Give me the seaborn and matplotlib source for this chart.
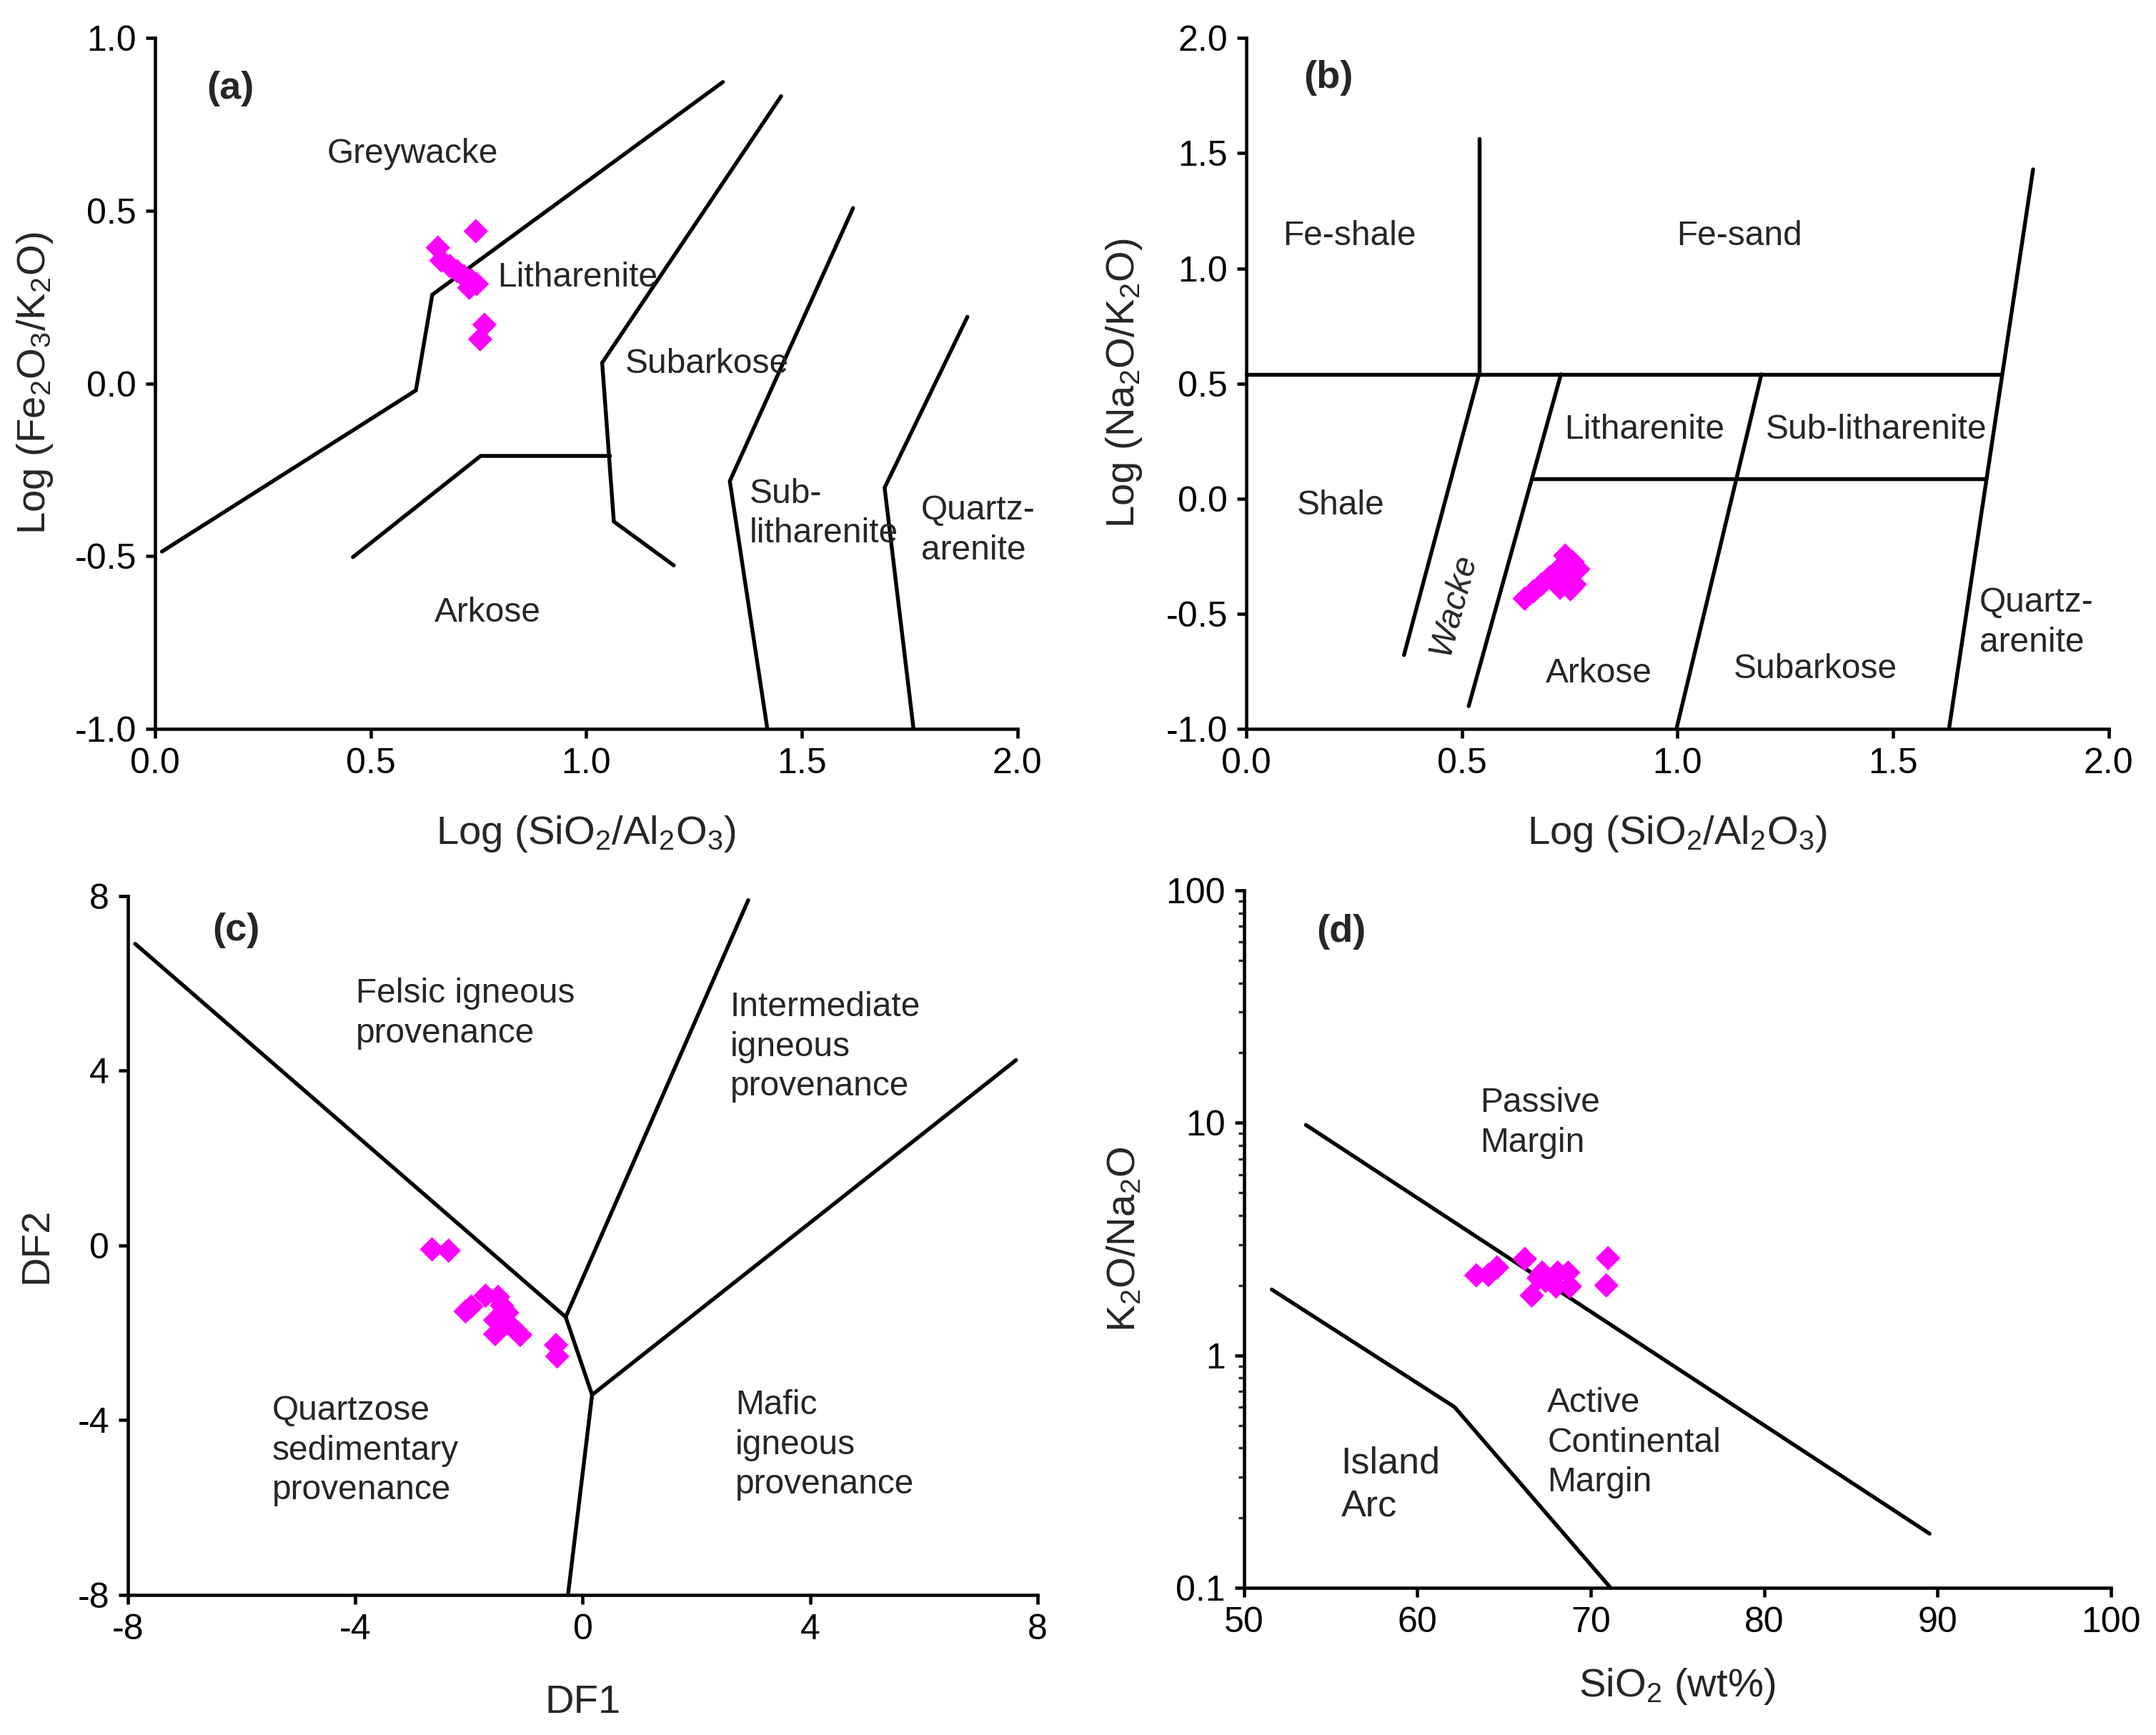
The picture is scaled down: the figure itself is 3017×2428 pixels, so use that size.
import numpy as np
import pandas as pd
import seaborn as sns
import matplotlib.pyplot as plt

# ---- sample data ----
# (a) log(SiO2/Al2O3) vs log(Fe2O3/K2O)
a_x = [0.744, 0.656, 0.664, 0.684, 0.701, 0.717, 0.734, 0.746, 0.729, 0.764, 0.754]
a_y = [0.441, 0.393, 0.356, 0.340, 0.325, 0.310, 0.298, 0.288, 0.277, 0.170, 0.128]

# (b) log(SiO2/Al2O3) vs log(Na2O/K2O)
b_x = [0.646, 0.666, 0.685, 0.704, 0.723, 0.740, 0.757, 0.770, 0.752, 0.762, 0.728, 0.740]
b_y = [-0.435, -0.404, -0.373, -0.342, -0.311, -0.248, -0.276, -0.307, -0.394, -0.373, -0.388, -0.339]

# (c) DF1 vs DF2
c_x = [-2.65, -2.36, -2.06, -1.96, -1.71, -1.49, -1.42, -1.33, -1.54, -1.37, -1.54, -1.24, -1.10, -0.47, -0.45]
c_y = [-0.09, -0.12, -1.51, -1.40, -1.15, -1.18, -1.38, -1.54, -1.71, -1.76, -2.03, -1.87, -2.05, -2.28, -2.54]

# (d) SiO2 vs K2O/Na2O
d_x = [63.4, 64.1, 64.6, 66.2, 67.0, 66.6, 67.4, 68.1, 68.0, 68.7, 68.8, 67.2, 71.0, 70.9]
d_y = [2.21, 2.22, 2.39, 2.60, 2.15, 1.81, 2.09, 2.27, 1.98, 2.27, 1.98, 2.27, 2.62, 2.00]

# ---- field boundaries ----
a_bounds = [
    ([0.016, 0.605, 0.643, 1.317], [-0.487, -0.020, 0.257, 0.873]),
    ([1.452, 1.037, 1.064, 1.203], [0.832, 0.060, -0.400, -0.527]),
    ([0.459, 0.755, 1.055], [-0.503, -0.210, -0.210]),
    ([1.619, 1.333, 1.420], [0.508, -0.283, -1.0]),
    ([1.884, 1.692, 1.759], [0.193, -0.302, -1.0]),
]
b_bounds = [
    ([0.54, 0.54], [1.565, 0.54]),
    ([0.0, 1.751], [0.54, 0.54]),
    ([1.825, 1.63], [1.43, -1.0]),
    ([0.54, 0.366], [0.54, -0.68]),
    ([0.73, 0.516], [0.54, -0.902]),
    ([0.666, 1.716], [0.086, 0.086]),
    ([1.195, 0.998], [0.54, -1.0]),
]
c_bounds = [
    ([-7.87, -0.30], [6.90, -1.64]),
    ([-0.30, 2.91], [-1.64, 7.90]),
    ([-0.30, 0.164], [-1.64, -3.42]),
    ([0.164, 7.62], [-3.42, 4.24]),
    ([0.164, -0.26], [-3.42, -8.0]),
]
d_bounds = [
    ([53.57, 89.55], [9.8, 0.171]),
    ([51.6, 62.14, 71.15], [1.92, 0.60, 0.10]),
]

sns.set_style("ticks")
plt.rcParams['font.family'] = ['Liberation Sans', 'DejaVu Sans']
plt.rcParams['mathtext.default'] = 'regular'
plt.rcParams['axes.unicode_minus'] = False

fig = plt.figure(figsize=(3017 / 300, 2428 / 300), dpi=300)
ax_a = fig.add_axes([0.0719, 0.580, 0.400, 0.398])
ax_b = fig.add_axes([0.578, 0.580, 0.400, 0.398])
ax_c = fig.add_axes([0.0593, 0.0807, 0.422, 0.403])
ax_d = fig.add_axes([0.577, 0.0848, 0.402, 0.402])

MAG = '#FF00FF'
LW = 1.3
TXT = 11.5
LAB = 13.5


def style(ax):
    sns.despine(ax=ax)
    for s in ['left', 'bottom']:
        ax.spines[s].set_linewidth(1.1)
        ax.spines[s].set_color('black')
    ax.tick_params(direction='out', length=3.2, width=1.1, labelsize=12, colors='black', pad=3)
    ax.tick_params(which='minor', direction='out', length=2, width=0.8)


def draw(ax, bounds, xs, ys):
    for bx, by in bounds:
        ax.plot(bx, by, color='black', lw=LW, solid_joinstyle='miter', clip_on=False)
    df = pd.DataFrame({'x': xs, 'y': ys})
    sns.scatterplot(data=df, x='x', y='y', ax=ax, marker='D', s=34,
                    color=MAG, edgecolor='none', linewidth=0, zorder=5, clip_on=False)


# (a)
draw(ax_a, a_bounds, a_x, a_y)
ax_a.set_xlim(0, 2)
ax_a.set_ylim(-1, 1)
ax_a.set_xticks(np.arange(0, 2.01, 0.5))
ax_a.set_yticks(np.arange(-1, 1.01, 0.5))
ax_a.set_xticklabels(['0.0', '0.5', '1.0', '1.5', '2.0'])
ax_a.set_yticklabels(['-1.0', '-0.5', '0.0', '0.5', '1.0'])
ax_a.set_xlabel('Log (SiO$_2$/Al$_2$O$_3$)', fontsize=LAB)
ax_a.set_ylabel('Log (Fe$_2$O$_3$/K$_2$O)', fontsize=LAB)
ax_a.xaxis.set_label_coords(0.5, -0.123)
ax_a.yaxis.set_label_coords(-0.116, 0.5)
ax_a.text(0.175, 0.853, '(a)', fontsize=13, fontweight='bold', ha='center', va='center')
ax_a.text(0.597, 0.665, 'Greywacke', fontsize=TXT, ha='center', va='center')
ax_a.text(0.98, 0.307, 'Litharenite', fontsize=TXT, ha='center', va='center')
ax_a.text(1.28, 0.056, 'Subarkose', fontsize=TXT, ha='center', va='center')
ax_a.text(1.378, -0.378, 'Sub-\nlitharenite', fontsize=TXT, ha='left', va='center', linespacing=1.3)
ax_a.text(1.777, -0.426, 'Quartz-\narenite', fontsize=TXT, ha='left', va='center', linespacing=1.3)
ax_a.text(0.772, -0.665, 'Arkose', fontsize=TXT, ha='center', va='center')

# (b)
draw(ax_b, b_bounds, b_x, b_y)
ax_b.set_xlim(0, 2)
ax_b.set_ylim(-1, 2)
ax_b.set_xticks(np.arange(0, 2.01, 0.5))
ax_b.set_yticks(np.arange(-1, 2.01, 0.5))
ax_b.set_xticklabels(['0.0', '0.5', '1.0', '1.5', '2.0'])
ax_b.set_yticklabels(['-1.0', '-0.5', '0.0', '0.5', '1.0', '1.5', '2.0'])
ax_b.set_xlabel('Log (SiO$_2$/Al$_2$O$_3$)', fontsize=LAB)
ax_b.set_ylabel('Log (Na$_2$O/K$_2$O)', fontsize=LAB)
ax_b.xaxis.set_label_coords(0.5, -0.123)
ax_b.yaxis.set_label_coords(-0.118, 0.5)
ax_b.text(0.19, 1.827, '(b)', fontsize=13, fontweight='bold', ha='center', va='center')
ax_b.text(0.24, 1.14, 'Fe-shale', fontsize=TXT, ha='center', va='center')
ax_b.text(1.143, 1.14, 'Fe-sand', fontsize=TXT, ha='center', va='center')
ax_b.text(0.924, 0.30, 'Litharenite', fontsize=TXT, ha='center', va='center')
ax_b.text(1.462, 0.30, 'Sub-litharenite', fontsize=TXT, ha='center', va='center')
ax_b.text(0.22, -0.03, 'Shale', fontsize=TXT, ha='center', va='center')
ax_b.text(0.481, -0.46, 'Wacke', fontsize=TXT, ha='center', va='center', rotation=75, style='italic')
ax_b.text(0.818, -0.76, 'Arkose', fontsize=TXT, ha='center', va='center')
ax_b.text(1.32, -0.74, 'Subarkose', fontsize=TXT, ha='center', va='center')
ax_b.text(1.70, -0.54, 'Quartz-\narenite', fontsize=TXT, ha='left', va='center', linespacing=1.3)

# (c)
draw(ax_c, c_bounds, c_x, c_y)
ax_c.set_xlim(-8, 8)
ax_c.set_ylim(-8, 8)
ax_c.set_xticks([-8, -4, 0, 4, 8])
ax_c.set_yticks([-8, -4, 0, 4, 8])
ax_c.set_xlabel('DF1', fontsize=LAB)
ax_c.set_ylabel('DF2', fontsize=LAB)
ax_c.xaxis.set_label_coords(0.5, -0.128)
ax_c.yaxis.set_label_coords(-0.08, 0.5)
ax_c.text(-6.09, 7.21, '(c)', fontsize=13, fontweight='bold', ha='center', va='center')
ax_c.text(-3.99, 5.3, 'Felsic igneous\nprovenance', fontsize=TXT, ha='left', va='center', linespacing=1.3)
ax_c.text(2.59, 4.54, 'Intermediate\nigneous\nprovenance', fontsize=TXT, ha='left', va='center', linespacing=1.3)
ax_c.text(-5.46, -4.7, 'Quartzose\nsedimentary\nprovenance', fontsize=TXT, ha='left', va='center', linespacing=1.3)
ax_c.text(2.68, -4.57, 'Mafic\nigneous\nprovenance', fontsize=TXT, ha='left', va='center', linespacing=1.3)

# (d)
ax_d.set_yscale('log')
draw(ax_d, d_bounds, d_x, d_y)
ax_d.set_xlim(50, 100)
ax_d.set_ylim(0.1, 100)
ax_d.set_xticks([50, 60, 70, 80, 90, 100])
ax_d.set_yticks([0.1, 1, 10, 100])
ax_d.set_yticklabels(['0.1', '1', '10', '100'])
ax_d.set_xlabel('SiO$_2$ (wt%)', fontsize=LAB)
ax_d.set_ylabel('K$_2$O/Na$_2$O', fontsize=LAB)
ax_d.xaxis.set_label_coords(0.5, -0.113)
ax_d.yaxis.set_label_coords(-0.116, 0.5)
ax_d.text(55.6, 66.5, '(d)', fontsize=13, fontweight='bold', ha='center', va='center')
ax_d.text(63.6, 10.0, 'Passive\nMargin', fontsize=TXT, ha='left', va='center', linespacing=1.3)
ax_d.text(67.5, 0.42, 'Active\nContinental\nMargin', fontsize=TXT, ha='left', va='center', linespacing=1.3)
ax_d.text(55.6, 0.277, 'Island\nArc', fontsize=TXT + 1, ha='left', va='center', linespacing=1.3)

for ax in [ax_a, ax_b, ax_c, ax_d]:
    style(ax)

plt.savefig('out.png', dpi=300)
